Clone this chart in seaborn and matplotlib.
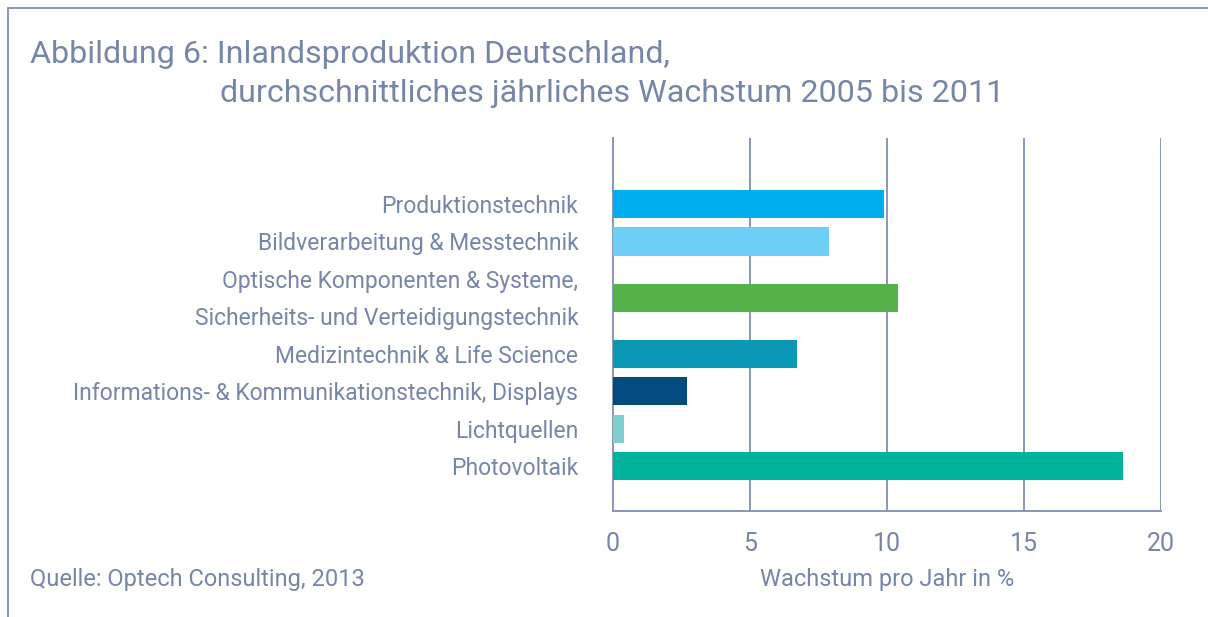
import matplotlib
matplotlib.use("Agg")
import matplotlib.pyplot as plt
import seaborn as sns
import pandas as pd

# ---- data ----
kategorien = [
    "Produktionstechnik",
    "Bildverarbeitung & Messtechnik",
    "Optische Komponenten & Systeme,\nSicherheits- und Verteidigungstechnik",
    "Medizintechnik & Life Science",
    "Informations- & Kommunikationstechnik, Displays",
    "Lichtquellen",
    "Photovoltaik",
]
wachstum = [9.9, 7.9, 10.4, 6.7, 2.7, 0.4, 18.6]
x_ticks = [0, 5, 10, 15, 20]

# ---- layout / style ----
zeilen = [0, 1, 2.5, 4, 5, 6, 7]          # row slots (two-line label takes two slots)
farben = ["#00aeef", "#6dcff6", "#53b34a", "#0a98b4", "#034a7e", "#7ecfcd", "#00b39d"]
textfarbe = "#7686a8"
linienfarbe = "#8a97b6"
gewicht = "normal"

sns.set_theme(style="white")
plt.rcParams["font.family"] = ["Roboto", "DejaVu Sans"]

fig = plt.figure(figsize=(12.08, 6.17), dpi=100)
ax = fig.add_axes([613 / 1208, 1 - 511 / 617, (1161 - 613) / 1208, (511 - 138) / 617])

df = pd.DataFrame({"kategorie": kategorien, "wachstum": wachstum, "zeile": zeilen})
sns.barplot(data=df, x="wachstum", y="zeile", hue="kategorie", palette=farben,
            orient="h", native_scale=True, dodge=False, legend=False,
            width=0.75, saturation=1, linewidth=0, ax=ax, zorder=3)

ax.set_xlim(0, 20)
ax.set_ylim(8.19, -1.76)
ax.set_xticks(x_ticks)
ax.set_xticklabels([str(t) for t in x_ticks], fontsize=18, color=textfarbe, fontweight=gewicht)

tick_pos, tick_lab = [], []
for k, z in zip(kategorien, zeilen):
    teile = k.split("\n")
    if len(teile) == 2:
        tick_pos += [z - 0.5, z + 0.5]
        tick_lab += teile
    else:
        tick_pos.append(z)
        tick_lab.append(k)
ax.set_yticks(tick_pos)
ax.set_yticklabels(tick_lab, fontsize=16.5, color=textfarbe, fontweight=gewicht)
ax.tick_params(axis="both", length=0)
ax.tick_params(axis="y", pad=25)
ax.tick_params(axis="x", pad=15)

for t in x_ticks[1:]:
    ax.axvline(t, color=linienfarbe, lw=1.4, zorder=1)
for s in ["top", "right"]:
    ax.spines[s].set_visible(False)
for s in ["left", "bottom"]:
    ax.spines[s].set_color(linienfarbe)
    ax.spines[s].set_linewidth(1.4)
ax.set_xlabel("")
ax.set_ylabel("")
ax.grid(False)

# frame lines
fig.add_artist(plt.Line2D([8 / 1208, 8 / 1208], [0, 1 - 8 / 617], color=linienfarbe, lw=1.4))
fig.add_artist(plt.Line2D([8 / 1208, 1], [1 - 8 / 617, 1 - 8 / 617], color=linienfarbe, lw=1.4))

# title
fig.text(30 / 1208, 1 - 63 / 617, "Abbildung 6: Inlandsproduktion Deutschland,",
         fontsize=23.2, color=textfarbe, fontweight=gewicht, va="baseline", ha="left")
fig.text(220 / 1208, 1 - 102 / 617, "durchschnittliches jährliches Wachstum 2005 bis 2011",
         fontsize=23.2, color=textfarbe, fontweight=gewicht, va="baseline", ha="left")

fig.text(30 / 1208, 1 - 586 / 617, "Quelle: Optech Consulting, 2013",
         fontsize=17, color=textfarbe, fontweight=gewicht, va="baseline", ha="left")
fig.text(887 / 1208, 1 - 586 / 617, "Wachstum pro Jahr in %",
         fontsize=17, color=textfarbe, fontweight=gewicht, va="baseline", ha="center")

fig.savefig("out.png", dpi=100, facecolor="white")
